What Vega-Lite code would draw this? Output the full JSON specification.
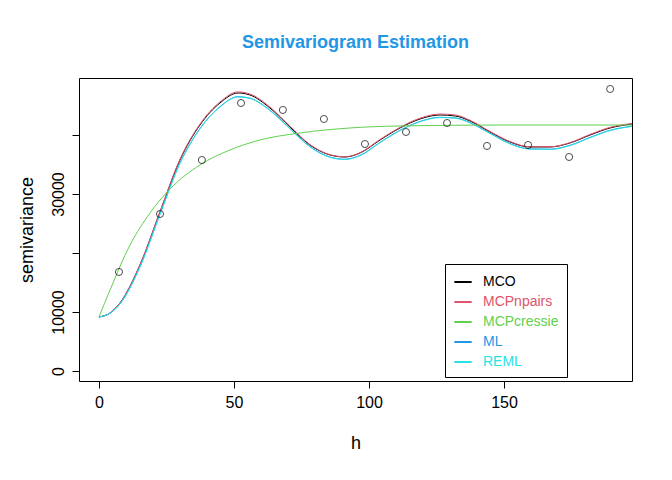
{
  "$schema": "https://vega.github.io/schema/vega-lite/v6.json",
  "width": 553,
  "height": 303,
  "autosize": "none",
  "padding": {"left": 79, "top": 78, "right": 40, "bottom": 99},
  "background": "white",
  "config": {
    "view": {"stroke": "black", "strokeWidth": 1},
    "font": "Liberation Sans",
    "axis": {"grid": false, "domain": false, "tickColor": "black", "tickSize": 7, "labelFontSize": 16, "labelColor": "black", "titleFontSize": 18, "titleFontWeight": "normal", "titleColor": "black", "labelPadding": 6}
  },
  "title": {"text": "Semivariogram Estimation", "fontSize": 18, "fontWeight": "bold", "color": "#2297E6", "offset": 26, "anchor": "middle"},
  "datasets": {
    "pts": [
      {"h": 7.4, "g": 16780}, {"h": 22.6, "g": 26610}, {"h": 38.1, "g": 35760}, {"h": 52.6, "g": 45420},
      {"h": 68.1, "g": 44240}, {"h": 83.3, "g": 42710}, {"h": 98.5, "g": 38470}, {"h": 113.7, "g": 40510},
      {"h": 128.9, "g": 42030}, {"h": 143.7, "g": 38140}, {"h": 158.9, "g": 38300}, {"h": 174.1, "g": 36270},
      {"h": 189.3, "g": 47800}
    ],
    "curves": [
      {"h": 0, "MCO": 9150, "MCPnpairs": 9150, "ML": 9150, "REML": 9150},
      {"h": 4.1, "MCO": 9830, "MCPnpairs": 9830, "ML": 9800, "REML": 9790},
      {"h": 7.8, "MCO": 11530, "MCPnpairs": 11550, "ML": 11400, "REML": 11380},
      {"h": 15.2, "MCO": 17970, "MCPnpairs": 18050, "ML": 17700, "REML": 17650},
      {"h": 22.6, "MCO": 26950, "MCPnpairs": 27050, "ML": 26600, "REML": 26550},
      {"h": 30.0, "MCO": 35760, "MCPnpairs": 35900, "ML": 35250, "REML": 35200},
      {"h": 37.4, "MCO": 41690, "MCPnpairs": 41850, "ML": 41100, "REML": 41050},
      {"h": 44.8, "MCO": 45420, "MCPnpairs": 45600, "ML": 44800, "REML": 44750},
      {"h": 51.5, "MCO": 47120, "MCPnpairs": 47300, "ML": 46500, "REML": 46450},
      {"h": 55.9, "MCO": 46780, "MCPnpairs": 46950, "ML": 46250, "REML": 46200},
      {"h": 63.3, "MCO": 44580, "MCPnpairs": 44750, "ML": 44200, "REML": 44150},
      {"h": 70.7, "MCO": 41360, "MCPnpairs": 41500, "ML": 41100, "REML": 41050},
      {"h": 78.1, "MCO": 38310, "MCPnpairs": 38400, "ML": 38050, "REML": 38000},
      {"h": 85.6, "MCO": 36610, "MCPnpairs": 36650, "ML": 36250, "REML": 36200},
      {"h": 91.1, "MCO": 36270, "MCPnpairs": 36300, "ML": 35900, "REML": 35850},
      {"h": 96.7, "MCO": 36950, "MCPnpairs": 37000, "ML": 36550, "REML": 36500},
      {"h": 104.1, "MCO": 39150, "MCPnpairs": 39250, "ML": 38750, "REML": 38700},
      {"h": 111.5, "MCO": 41190, "MCPnpairs": 41300, "ML": 40800, "REML": 40750},
      {"h": 118.9, "MCO": 42710, "MCPnpairs": 42850, "ML": 42300, "REML": 42250},
      {"h": 126.3, "MCO": 43390, "MCPnpairs": 43550, "ML": 43000, "REML": 42950},
      {"h": 131.9, "MCO": 43220, "MCPnpairs": 43400, "ML": 42900, "REML": 42850},
      {"h": 137.4, "MCO": 42370, "MCPnpairs": 42500, "ML": 42100, "REML": 42050},
      {"h": 144.8, "MCO": 40510, "MCPnpairs": 40600, "ML": 40300, "REML": 40250},
      {"h": 152.2, "MCO": 38810, "MCPnpairs": 38900, "ML": 38550, "REML": 38500},
      {"h": 159.6, "MCO": 37970, "MCPnpairs": 38000, "ML": 37650, "REML": 37600},
      {"h": 167.0, "MCO": 37970, "MCPnpairs": 38000, "ML": 37600, "REML": 37550},
      {"h": 174.4, "MCO": 38640, "MCPnpairs": 38700, "ML": 38250, "REML": 38200},
      {"h": 181.9, "MCO": 40000, "MCPnpairs": 40100, "ML": 39600, "REML": 39550},
      {"h": 189.3, "MCO": 41190, "MCPnpairs": 41300, "ML": 40800, "REML": 40750},
      {"h": 197.4, "MCO": 41860, "MCPnpairs": 41950, "ML": 41500, "REML": 41450}
    ],
    "cressie": [
      {"h": 0, "g": 9150, "model": "MCPcressie"}, {"h": 4.1, "g": 13730, "model": "MCPcressie"},
      {"h": 11.5, "g": 21360, "model": "MCPcressie"}, {"h": 18.9, "g": 26780, "model": "MCPcressie"},
      {"h": 26.3, "g": 30850, "model": "MCPcressie"}, {"h": 37.4, "g": 34920, "model": "MCPcressie"},
      {"h": 48.5, "g": 37460, "model": "MCPcressie"}, {"h": 59.6, "g": 39150, "model": "MCPcressie"},
      {"h": 74.4, "g": 40340, "model": "MCPcressie"}, {"h": 92.9, "g": 41190, "model": "MCPcressie"},
      {"h": 111.5, "g": 41530, "model": "MCPcressie"}, {"h": 148.5, "g": 41690, "model": "MCPcressie"},
      {"h": 197.4, "g": 41690, "model": "MCPcressie"}
    ]
  },
  "encoding": {
    "x": {"field": "h", "type": "quantitative", "scale": {"domain": [-7.4, 197.4], "nice": false, "zero": false}, "axis": {"values": [0, 50, 100, 150], "title": "h", "titlePadding": 24}},
    "y": {"field": "g", "type": "quantitative", "scale": {"domain": [-1700, 49660], "nice": false, "zero": false}, "axis": {"values": [0, 10000, 20000, 30000, 40000], "labelExpr": "datum.value == 20000 || datum.value == 40000 ? '' : datum.value", "labelAngle": -90, "labelAlign": "center", "labelBaseline": "bottom", "title": "semivariance", "titlePadding": 14}}
  },
  "layer": [
    {
      "data": {"name": "curves"},
      "transform": [{"fold": ["MCO", "MCPnpairs", "ML", "REML"], "as": ["model", "g"]}],
      "mark": {"type": "line", "interpolate": "monotone", "strokeWidth": 1, "clip": true},
      "encoding": {
        "color": {"field": "model", "type": "nominal",
          "scale": {"domain": ["MCO", "MCPnpairs", "MCPcressie", "ML", "REML"], "range": ["black", "#DF536B", "#61D04F", "#2297E6", "#28E2E5"]},
          "legend": {"title": null, "orient": "none", "legendX": 366, "legendY": 186, "symbolType": "stroke", "symbolStrokeWidth": 2, "symbolSize": 300, "labelFontSize": 14, "rowPadding": 3, "padding": 8, "strokeColor": "black", "fillColor": "white", "labelOffset": 10,
            "encode": {"labels": {"update": {"fill": {"signal": "scale('color', datum.value)"}, "fontWeight": {"value": "normal"}}}}}
        },
        "order": {"field": "model"}
      }
    },
    {
      "data": {"name": "cressie"},
      "mark": {"type": "line", "interpolate": "monotone", "strokeWidth": 1, "clip": true},
      "encoding": {"color": {"field": "model", "type": "nominal"}}
    },
    {
      "data": {"name": "pts"},
      "mark": {"type": "point", "shape": "circle", "color": "black", "filled": false, "size": 50, "strokeWidth": 1}
    }
  ]
}
